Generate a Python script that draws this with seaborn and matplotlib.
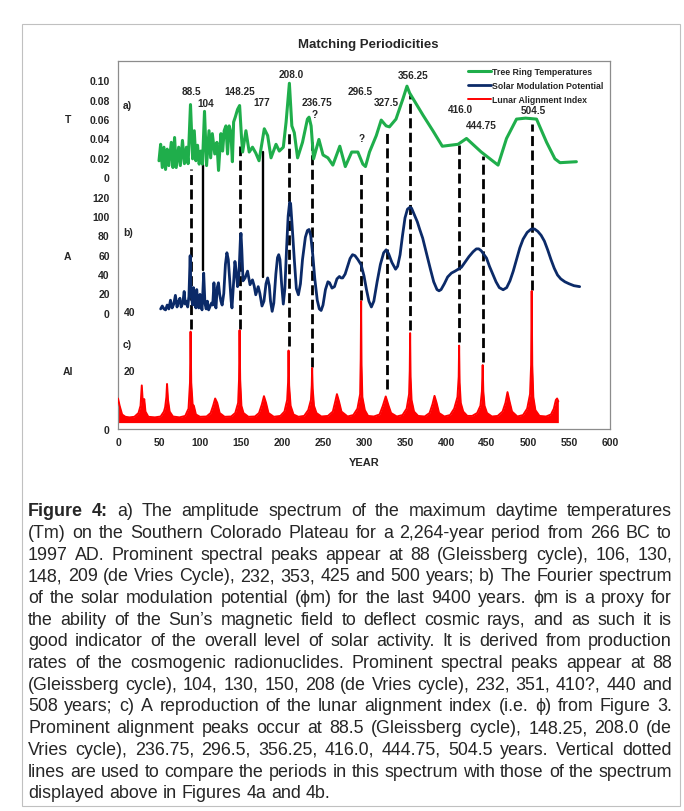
import numpy as np
import seaborn as sns
import matplotlib.pyplot as plt
from matplotlib.patches import Rectangle

# ---- values ----
tree_year = [50, 52, 54, 56, 58, 60, 62, 65, 67, 69, 71, 74, 76, 78.6, 81, 83.5, 85.5, 88.4, 91, 93,
             95, 97, 99, 101, 103, 105.5, 108, 111, 113, 115, 118, 120.6, 122.6, 125.5, 127.6, 129.5,
             131.6, 133.6, 135.6, 137.7, 139.5, 141, 143, 145.8, 148.3, 150.7, 152, 156, 160, 164, 168,
             172, 178.4, 182.5, 186.6, 192.7, 196.7, 201.6, 205, 209, 212, 215, 219, 225, 231, 233,
             235.5, 238.5, 245, 250, 256, 262, 270.5, 277.2, 285, 292.5, 298.6, 301.8, 306.7, 315,
             321, 327, 331, 339, 347.5, 352.4, 355.6, 372, 384, 395.5, 414.7, 425, 443, 463.5, 473.8,
             486, 497, 510.4, 522.7, 532.8, 539, 559]
tree_temp = [0.017, 0.034, 0.010, 0.031, 0.008, 0.029, 0.012, 0.036, 0.010, 0.041, 0.010, 0.031, 0.012,
             0.038, 0.014, 0.031, 0.014, 0.075, 0.019, 0.048, 0.017, 0.033, 0.0135, 0.027, 0.0135, 0.068,
             0.012, 0.048, 0.020, 0.045, 0.024, 0.036, 0.007, 0.045, 0.027, 0.048, 0.053, 0.024, 0.053,
             0.046, 0.016, 0.057, 0.062, 0.070, 0.074, 0.040, 0.026, 0.048, 0.026, 0.031, 0.025, 0.017,
             0.050, 0.043, 0.020, 0.034, 0.027, 0.031, 0.057, 0.097, 0.053, 0.046, 0.020, 0.036, 0.060,
             0.062, 0.053, 0.019, 0.039, 0.023, 0.020, 0.0125, 0.032, 0.011, 0.026, 0.026, 0.0135, 0.011,
             0.026, 0.043, 0.059, 0.053, 0.052, 0.060, 0.081, 0.094, 0.087, 0.064, 0.048, 0.032, 0.034,
             0.040, 0.026, 0.0125, 0.040, 0.060, 0.061, 0.060, 0.036, 0.019, 0.015, 0.016]

solar_year = [52, 54, 56, 58, 60, 62, 64, 66, 68, 70, 72, 74, 75.5, 77, 79, 80.7, 82, 83.5, 85, 86.5,
              88, 89, 90, 91, 92, 93.5, 95, 96, 97.5, 98.5, 100, 101.5, 102.5, 104.5, 106, 107.5, 109,
              110.5, 112, 114, 115.5, 117, 118.5, 119.5, 121, 122.5, 124, 125.5, 127, 129, 131, 132.8,
              134.5, 136.5, 138, 139, 140.5, 142.6, 144, 145.8, 147.5, 149.2, 150, 151, 152.5, 155, 158,
              161, 164, 166, 168, 171, 173, 175.6, 178, 180.5, 182.5, 184.5, 186, 188, 190, 192.5, 194.5,
              196, 197.5, 199.5, 201.6, 203.5, 205.5, 207.5, 209.3, 210.5, 212.5, 215, 217.5, 220, 222.5,
              225, 228.5, 231, 233, 235, 237.5, 240, 243, 245.5, 247.7, 250, 253, 256, 258, 261, 264, 267,
              270, 272, 274, 277, 280, 283, 286, 289, 292.5, 296.5, 300, 303, 306, 309, 312, 316, 320,
              324, 327, 330, 334, 338.5, 341, 344, 347, 350, 353, 356, 358, 361, 365, 368, 371.6, 376,
              381, 385, 389, 391.5, 394, 398, 402, 406.6, 411, 415, 418.8, 423, 428, 433, 437, 440, 443,
              446.5, 449.4, 453, 457, 461, 465, 469.7, 474, 478, 482, 486, 490, 494, 499, 504, 508, 512,
              516, 520, 524, 528, 532, 536, 540, 545, 550, 556, 563]
solar_amp = [4, 7, 4, 3, 8, 4, 13, 5, 9, 18, 6, 12, 15, 6, 10, 22, 9, 12, 6, 17,
             59, 20, 14, 8, 26, 10, 5, 24, 10, 5, 19, 6, 3, 41, 10, 4, 12,
             3, 6, 10, 8, 31, 8, 5, 26, 31, 19, 12, 8, 20, 50, 62,
             55, 30, 12, 5, 25, 53, 44, 27, 40, 75, 82, 65, 33, 36, 43,
             29, 34, 28, 18.6, 27, 20, 7, 12, 30, 36, 28, 12, 1.5, 10, 40, 57,
             60, 55, 30, 9, 25, 65, 100, 114, 113, 88, 55, 25, 18.6, 30,
             55, 78, 85, 86, 80, 60, 35, 13, 4, 2.4, 8, 24, 32, 31, 25.5, 27, 35,
             37.5, 36, 36, 40, 48, 56, 60, 59, 55, 49.6, 38, 24, 12, 6, 12, 32, 50,
             62, 65, 61, 52, 45, 48, 60, 80, 98, 107, 109, 108, 102, 94, 86, 77, 62,
             45, 32, 24, 22.7, 24, 30, 37, 41, 43, 45, 47, 52, 58, 63, 66, 66, 64,
             60, 56.5, 48, 40, 32, 26, 23.8, 26, 33, 43, 55, 67, 76, 83, 86.5, 86.5, 84,
             80, 74, 65, 55, 46, 39, 35, 32, 30, 28, 27]

lunar_year = [0, 2, 5, 9, 14, 20, 25, 27.5, 29, 30.5, 32, 33.5, 37, 45, 52, 56, 57.5, 59, 59.8, 61, 63,
              67, 75, 82, 86, 87.8, 88.5, 89.3, 91, 92.5, 95, 100, 108, 113, 116, 118.5, 121, 124, 130,
              138, 143, 146.5, 147.6, 148.25, 149, 150.5, 153, 159, 167, 172, 175.5, 178, 180.5, 183.5,
              190, 198, 203, 206.3, 207.4, 208, 208.7, 210.5, 214, 220, 227, 232, 235.3, 236.3, 236.75,
              237.4, 239, 242, 248, 256, 262, 265, 267, 269.5, 272.5, 280, 287, 292, 295.3, 296, 296.5,
              297, 298, 301, 305, 312, 319, 323, 326.5, 330, 333, 340, 347, 352, 355, 355.8, 356.25,
              356.8, 358, 361, 366, 374, 380, 383.5, 386, 388.5, 391.5, 398, 405, 410, 414, 415.5, 416,
              416.6, 418, 421, 426, 432, 438, 442, 443.8, 444.75, 445.5, 447, 450, 456, 463, 469, 472.5,
              475, 477.5, 480.5, 487, 494, 499, 502.5, 503.8, 504.5, 505.2, 506.5, 509, 514, 522, 528,
              531.5, 534, 535.5, 537]
lunar_index = [10.5, 8, 5, 4.2, 4.0, 4.2, 5.5, 8, 15, 8, 10.3, 6, 4.2, 4.0, 4.3, 6, 7.5, 11, 15.5, 10, 6,
               4.3, 4.0, 4.5, 7, 16, 33.5, 16, 8.5, 8, 5, 4.2, 4.3, 5.5, 8, 10.5, 9, 5.5, 4.2,
               4.3, 5.5, 9, 17, 34, 17, 8, 5.5, 4.2, 4.3, 5.5, 8.5, 11.3, 9, 5.5,
               4.2, 4.5, 6, 10, 16, 27, 15, 8, 5, 4.2, 4.5, 6.5, 10, 15, 21,
               14, 8, 5.5, 4.3, 4.5, 6, 9.5, 12, 9.5, 6, 4.3, 4.8, 7, 12, 24, 44,
               22, 11, 6.5, 4.5, 4.3, 5, 8, 11.2, 8, 5.5, 4.3, 4.8, 7, 12, 20, 33,
               18, 10, 6, 4.5, 4.3, 5.5, 8.5, 11.4, 9, 5.5, 4.3, 4.8, 7, 11, 18, 28.7,
               16, 9, 6, 4.5, 4.5, 5.5, 8, 13, 22, 13, 8, 5.5, 4.3, 4.5, 6, 9,
               12.7, 9.5, 6, 4.3, 4.8, 7, 12, 22, 47.5, 22, 11, 6.5, 4.5, 4.3, 5,
               7, 10, 10.5, 9.5]

series_names = ["Tree Ring Temperatures", "Solar Modulation Potential", "Lunar Alignment Index"]

peak_text = ["88.5", "104", "148.25", "177", "208.0", "236.75", "?", "296.5", "327.5", "?",
             "356.25", "416.0", "444.75", "504.5"]
peak_text_year = [90, 107, 149, 175, 211, 243, 240, 295, 327, 297, 360, 417, 443, 506]
peak_text_level = [17.47, 16.85, 17.47, 16.9, 18.35, 16.9, 16.25, 17.47, 16.9, 15.0,
                   18.3, 16.5, 15.67, 16.45]

marker_year = [88.5, 104, 148.25, 177, 208, 236.75, 296.5, 327.5, 356.25, 416, 444.75, 504.5]
marker_dashed = [True, False, True, False, True, True, True, True, True, True, True, True]
marker_from_panel = ["AI", "A", "AI", "A", "AI", "AI", "AI", "AI", "AI", "AI", "AI", "AI"]
marker_from = [34.5, 44.5, 34.5, 37, 28.6, 21.4, 44.5, 13.8, 34, 30, 23, 48]
marker_to = [0.0083, 0.0125, 0.032, 0.026, 0.047, 0.036, 0.006, 0.047, 0.085, 0.033, 0.022, 0.055]

caption_lines = [
    "Figure 4: a) The amplitude spectrum of the maximum daytime temperatures",
    "(Tm) on the Southern Colorado Plateau for a 2,264-year period from 266 BC to",
    "1997 AD. Prominent spectral peaks appear at 88 (Gleissberg cycle), 106, 130,",
    "148, 209 (de Vries Cycle), 232, 353, 425 and 500 years; b) The Fourier spectrum",
    "of the solar modulation potential (\u03d5m) for the last 9400 years. \u03d5m is a proxy for",
    "the ability of the Sun\u2019s magnetic field to deflect cosmic rays, and as such it is",
    "good indicator of the overall level of solar activity. It is derived from production",
    "rates of the cosmogenic radionuclides. Prominent spectral peaks appear at 88",
    "(Gleissberg cycle), 104, 130, 150, 208 (de Vries cycle), 232, 351, 410?, 440 and",
    "508 years; c) A reproduction of the lunar alignment index (i.e. \u03d5) from Figure 3.",
    "Prominent alignment peaks occur at 88.5 (Gleissberg cycle), 148.25, 208.0 (de",
    "Vries cycle), 236.75, 296.5, 356.25, 416.0, 444.75, 504.5 years. Vertical dotted",
    "lines are used to compare the periods in this spectrum with those of the spectrum",
    "displayed above in Figures 4a and 4b.",
]

# the three spectra share one stacked y axis: (offset, units per value)
PANEL = {"AI": (0.0, 0.15), "A": (6.0, 0.05), "T": (13.0, 50.0)}


def stack(values, panel):
    off, k = PANEL[panel]
    return off + k * np.asarray(values, dtype=float)


GREEN = "#1fae4b"
BLUE = "#0b2a68"
RED = "#ff0000"

sns.set_style("white")
plt.rcParams["font.family"] = ["Liberation Sans", "DejaVu Sans"]

W, H = 684, 812
fig = plt.figure(figsize=(W / 100, H / 100), dpi=100)
ax = fig.add_axes([118 / W, 1 - 430 / H, 492 / W, 368 / H])

# guide lines linking the matching periods
for yr, dashed, pnl, lo, hi in zip(marker_year, marker_dashed, marker_from_panel, marker_from, marker_to):
    y0 = stack([lo], pnl)[0]
    y1 = stack([hi], "T")[0]
    if dashed:
        ax.plot([yr, yr], [y0, y1], color="black", lw=2.0, ls=(0, (3.6, 1.6)), zorder=1)
    else:
        ax.plot([yr, yr], [y0, y1], color="black", lw=1.7, zorder=1)

sns.lineplot(x=tree_year, y=stack(tree_temp, "T"), color=GREEN, lw=2.2, ax=ax,
             label=series_names[0], estimator=None, sort=False, zorder=3)
sns.lineplot(x=solar_year, y=stack(solar_amp, "A"), color=BLUE, lw=2.0, ax=ax,
             label=series_names[1], estimator=None, sort=False, zorder=3)
ax.fill_between(lunar_year, stack(lunar_index, "AI"), stack([2.2], "AI")[0],
                color=RED, lw=0, zorder=2)
sns.lineplot(x=lunar_year, y=stack(lunar_index, "AI"), color=RED, lw=1.4, ax=ax,
             label=series_names[2], estimator=None, sort=False, zorder=3)

for txt, yr, lvl in zip(peak_text, peak_text_year, peak_text_level):
    ax.text(yr, lvl, txt, ha="center", va="center", fontsize=7.2, fontweight="bold", zorder=4)

ax.set_xlim(0, 600)
ax.set_ylim(0, 19)
ax.set_xticks(range(0, 601, 50))
ax.set_yticks(range(0, 20))
ylabels = {0: "0", 6: "0", 7: "20", 8: "40", 9: "60", 10: "80", 11: "100", 12: "120",
           13: "0", 14: "0.02", 15: "0.04", 16: "0.06", 17: "0.08", 18: "0.10"}
ax.set_yticklabels([ylabels.get(i, "") for i in range(20)])
ax.tick_params(axis="both", direction="out", length=4, width=0.8, color="#808080",
               labelsize=7.5, pad=2)
for lbl in ax.get_xticklabels() + ax.get_yticklabels():
    lbl.set_fontweight("bold")
for s in ax.spines.values():
    s.set_color("#8c8c8c")
    s.set_linewidth(0.9)
ax.set_xlabel("YEAR", fontsize=8, fontweight="bold", labelpad=7)
ax.set_ylabel("")

# panel tags and stacked-axis names
yt = ax.get_yaxis_transform()
for tag, lvl in [("a)", 16.74), ("b)", 10.17), ("c)", 4.39)]:
    ax.text(6, lvl, tag, ha="left", va="center", fontsize=7.5, fontweight="bold")
for tag, lvl in [("20", 3.0), ("40", 6.05)]:
    ax.text(7, lvl, tag, ha="left", va="center", fontsize=7.5, fontweight="bold")
for tag, lvl in [("T", 16.0), ("A", 8.93), ("AI", 2.98)]:
    ax.text(-0.102, lvl, tag, transform=yt, ha="center", va="center", fontsize=7.5, fontweight="bold")

leg = ax.legend(loc="upper right", bbox_to_anchor=(1.0, 1.0), frameon=False, fontsize=6.3,
                handlelength=2.6, handletextpad=0.2, labelspacing=0.58, borderaxespad=0.3)
for t in leg.get_texts():
    t.set_fontweight("bold")

fig.text(368 / W, 1 - 45 / H, "Matching Periodicities", ha="center", va="center",
         fontsize=9.5, fontweight="bold")

fig.add_artist(Rectangle((22 / W, 1 - 807 / H), 658 / W, 782 / H, transform=fig.transFigure,
                         fill=False, ec="#c0c0c0", lw=0.8))

# justified caption: pick the size at which the fullest line just fits
renderer = fig.canvas.get_renderer()
left, right = 28, 672


def put_words(line, i, size, y):
    out = []
    for j, w in enumerate(line.split(" ")):
        bold = i == 0 and j < 2
        out.append(fig.text(0, y, w, ha="left", va="center", fontsize=size,
                            fontweight="bold" if bold else "normal"))
    return out


base = 11.0
natural = []
for i, line in enumerate(caption_lines):
    tmp = put_words(line, i, base, 0.5)
    ws = [t.get_window_extent(renderer).width for t in tmp]
    natural.append(sum(ws) + (len(ws) - 1) * 0.278 * base * 100 / 72)
    for t in tmp:
        t.remove()
size = base * (right - left - 2) / max(natural)

for i, line in enumerate(caption_lines):
    y = 1 - (511.7 + i * 21.7) / H
    texts = put_words(line, i, size, y)
    widths = [t.get_window_extent(renderer).width for t in texts]
    if i == len(caption_lines) - 1:
        gap = 0.278 * size * 100 / 72
    else:
        gap = (right - left - sum(widths)) / (len(texts) - 1)
    x = left
    for t, w in zip(texts, widths):
        t.set_x(x / W)
        x += w + gap

fig.savefig("out.png", dpi=100)
